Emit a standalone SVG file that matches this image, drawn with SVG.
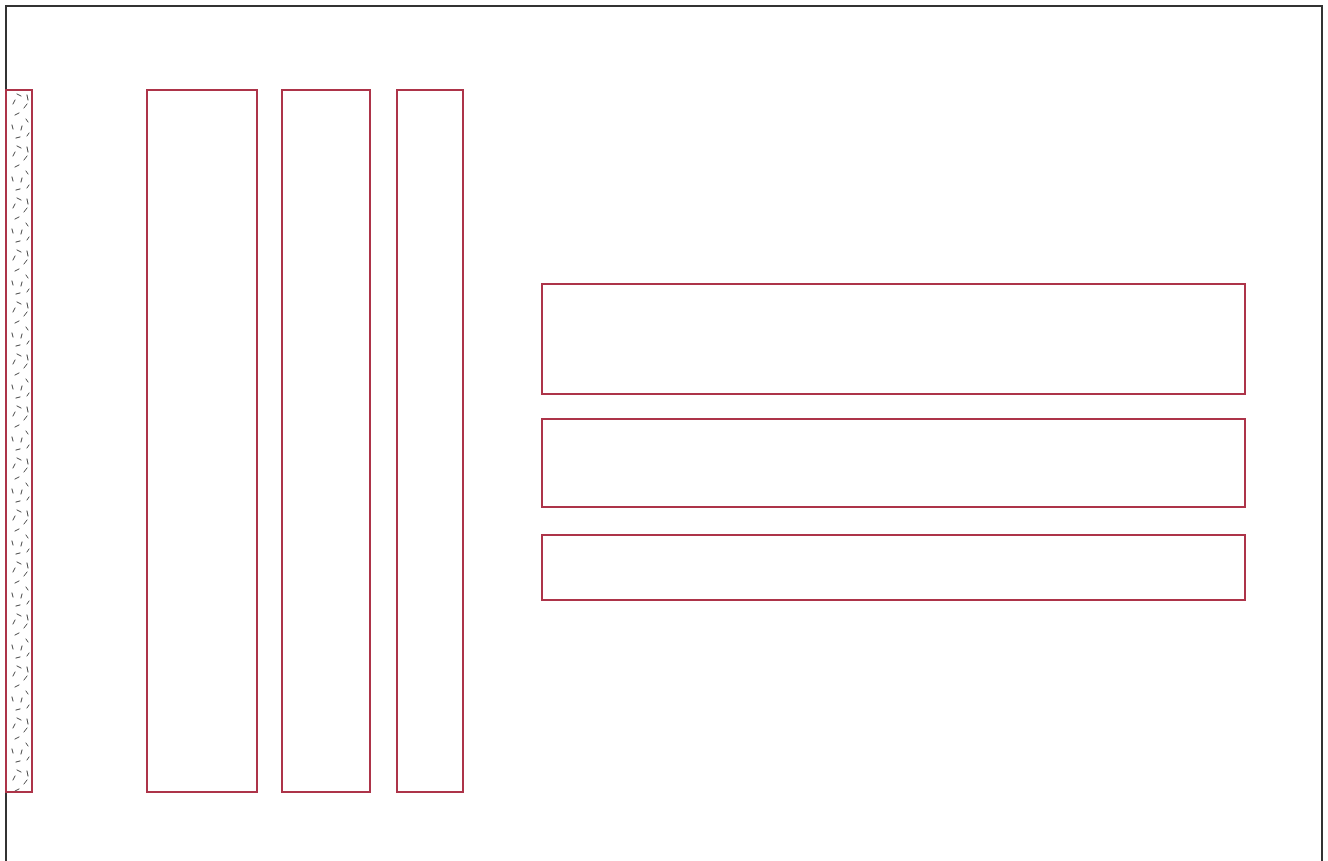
<svg xmlns="http://www.w3.org/2000/svg" width="1328" height="861" viewBox="0 0 1328 861">
<style>
.frame{fill:none;stroke:#333;stroke-width:2}
.box{fill:#fff;stroke:#ad3449;stroke-width:2}
.hatch{fill:url(#dash);stroke:#ad3449;stroke-width:2}
.d{stroke:#333;stroke-width:0.9;stroke-linecap:round}
</style>
<defs>
<pattern id="dash" patternUnits="userSpaceOnUse" x="6" y="90" width="26" height="52">
<rect width="26" height="52" fill="#fff"/>
<line class="d" x1="11" y1="4" x2="15" y2="6"/>
<line class="d" x1="21" y1="5" x2="22" y2="10"/>
<line class="d" x1="7" y1="14" x2="9" y2="10"/>
<line class="d" x1="18" y1="18" x2="21" y2="14"/>
<line class="d" x1="9" y1="25" x2="13" y2="23"/>
<line class="d" x1="20" y1="29" x2="22" y2="32"/>
<line class="d" x1="6" y1="35" x2="7" y2="39"/>
<line class="d" x1="15" y1="40" x2="16" y2="36"/>
<line class="d" x1="10" y1="48" x2="14" y2="47"/>
<line class="d" x1="21" y1="46" x2="23" y2="43"/>
</pattern>
</defs>
<rect class="frame" x="6" y="6" width="1316" height="860"/>
<g id="strip-hatched"><rect class="hatch" x="6" y="90" width="26" height="702"/></g>
<g id="col-1"><rect class="box" x="147" y="90" width="110" height="702"/></g>
<g id="col-2"><rect class="box" x="282" y="90" width="88" height="702"/></g>
<g id="col-3"><rect class="box" x="397" y="90" width="66" height="702"/></g>
<g id="row-1"><rect class="box" x="542" y="284" width="703" height="110"/></g>
<g id="row-2"><rect class="box" x="542" y="419" width="703" height="88"/></g>
<g id="row-3"><rect class="box" x="542" y="535" width="703" height="65"/></g>
<g id="connectors"></g>
</svg>
